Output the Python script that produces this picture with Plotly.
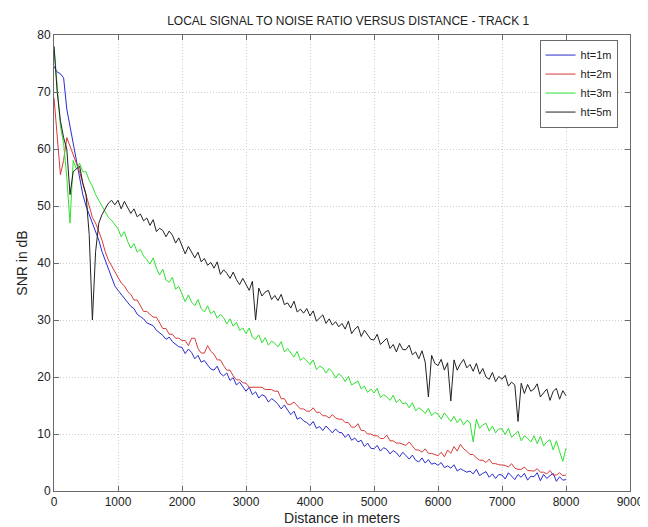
import plotly.graph_objects as go

# distance along track, 50 m steps
distance_m = list(range(0, 8001, 50))

snr_ht1 = [
    74.5, 73.5, 73.2, 72.5, 67, 64, 61, 57.5, 54.5, 52,
    50, 48.5, 47, 45.5, 44, 42, 40.5, 39, 37.5, 36,
    35.2, 34.5, 33.8, 33, 32.4, 32, 31, 30.6, 30.2, 29.5,
    29.2, 29, 28.2, 27.8, 27.3, 26.6, 27, 26.2, 25.7, 25.3,
    25.2, 24.1, 24.9, 24.3, 23.2, 23.8, 22.6, 22.9, 22.1, 21.4,
    21.2, 21.9, 20.6, 20.2, 20.7, 19.4, 19.9, 18.6, 19.1, 18.3,
    17.5, 18.2, 16.9, 17.4, 16.3, 16.9, 16.6, 15.6, 16.2, 15.8,
    15.2, 14.4, 15.1, 14.2, 13.4, 14.0, 12.6, 12.9, 12.3, 12.0,
    11.5, 12.2, 11.0, 11.3, 10.6, 11.4, 10.7, 10.2, 10.9, 10.3,
    10.2, 9.4, 10.0, 8.9, 9.3, 8.6, 8.9, 7.8, 8.4, 7.5,
    7.4, 8.0, 7.0, 7.6, 7.3, 6.5, 7.1, 6.7, 6.0, 6.8,
    6.2, 5.6, 6.3, 5.4, 5.1, 5.8, 4.9, 5.5, 4.7, 4.9,
    4.5, 5.0, 4.1, 4.4, 4.0, 4.6, 3.5, 3.9, 3.6, 3.3,
    3.5, 3.0, 3.8, 2.7, 3.1, 3.4, 2.4, 3.0, 2.2, 2.9,
    2.8, 2.1, 3.2, 2.5, 2.0, 2.9, 2.4, 3.1, 1.9, 2.6,
    2.5, 3.2, 1.8, 2.9, 2.2, 2.7, 3.1, 1.7, 2.5, 1.9,
    2.0,
]

snr_ht2 = [
    69, 62, 55.5, 58, 62, 60.5, 59, 57.5, 56, 54,
    52, 50, 48, 47, 45.5, 44, 42, 40.5, 39.5, 38.5,
    37.5, 36.5, 36, 35, 34.5, 33.5, 33.5, 32.5, 31.5, 31.5,
    31, 30.5, 30.5, 29.5, 28.5, 28.5, 27.5, 27.5, 26.8, 26.8,
    26.4, 26.4, 25.5, 26.8, 26.8, 25, 24.2, 24.2, 25.5, 24.5,
    24, 23, 23, 22, 21.2, 21.2, 20.2, 19.5, 19.5, 19,
    18.9, 18.2, 18.2, 18.2, 18.2, 18.2, 17.8, 17.8, 17.8, 17.5,
    17.5, 16.2, 16.2, 15.2, 15.2, 15.6, 15.0, 14.4, 14.4, 14.0,
    14.0, 14.6, 13.8, 13.8, 13.2, 13.2, 12.8, 13.4, 12.8, 12.6,
    12.6, 12.0, 12.0, 11.2, 11.2, 11.8, 10.6, 10.6, 10.0, 10.0,
    9.7, 9.7, 9.2, 9.2, 9.8, 8.8, 8.8, 8.4, 8.4, 8.2,
    8.0, 8.6, 7.8, 7.2, 7.2, 6.8, 7.4, 6.6, 6.6, 6.4,
    6.2, 6.8, 6.0, 7.2, 6.6, 7.8, 7.0, 8.2, 7.4, 7.0,
    6.4, 6.4, 5.8, 5.4, 5.4, 5.0, 5.6, 4.8, 4.8, 4.6,
    4.5, 4.5, 4.2, 4.8, 4.0, 3.8, 3.8, 4.2, 3.6, 3.6,
    3.5, 3.9, 3.3, 3.3, 3.0, 3.6, 2.8, 2.8, 3.2, 2.7,
    2.8,
]

snr_ht3 = [
    78, 71, 64, 61, 55, 47, 58, 56.5, 57.5, 56,
    56, 54.5, 53.5, 52, 51, 49.8, 49, 48, 47.5, 46.8,
    46, 44.6, 45.5, 43.8, 42.6, 43.4, 41.9, 42.4, 41.2, 40.6,
    39.8, 40.9, 39.1, 37.9, 38.9, 37.0, 36.6, 37.5, 35.4, 35.9,
    34.5, 33.2, 34.4, 33.1, 32.5, 33.6, 32.0, 31.4, 32.5, 31.1,
    31.6, 30.3, 31.0, 30.4, 29.3, 30.2, 28.9, 29.6, 28.2, 28.6,
    27.6, 28.6, 27.0, 26.6, 27.4, 26.0, 26.9, 25.6, 26.3, 25.9,
    25.3, 26.2, 24.4, 25.0, 24.2, 23.5, 24.5, 22.9, 23.4, 22.7,
    22.2, 23.0, 21.3, 21.9, 21.6, 20.7, 21.5, 20.9, 19.8, 20.6,
    20.1, 19.2, 20.1, 18.6, 18.9, 19.3, 17.9, 18.4, 17.3, 17.9,
    17.2, 18.0, 16.4, 16.9, 16.5, 15.9, 16.8, 15.5, 16.1, 15.3,
    15.5, 14.6, 15.5, 14.1, 14.6, 14.2, 13.6, 14.5, 13.2, 13.8,
    13.5, 12.6, 13.7, 12.9, 12.2, 13.1, 12.0, 12.7, 11.6, 12.4,
    12.0, 8.6, 12.6, 11.0, 11.6, 11.9, 10.5, 11.4, 10.2, 10.9,
    10.9, 9.9, 11.0, 9.4, 10.0, 10.5, 8.8, 9.7, 9.2, 8.6,
    9.7, 8.3, 9.6, 7.9, 8.6, 9.0, 7.2, 8.8, 6.9, 5.2,
    7.5,
]

snr_ht5 = [
    78, 70, 65, 62, 60, 52, 56, 56.5, 57, 54,
    52, 45, 30, 42, 47, 48.5, 49.5, 50.5, 51, 50.2,
    51, 49.5, 50.8, 49.6, 48.7, 49.5, 48.1, 48.6, 47.4, 47.9,
    46.6, 47.6, 45.5, 46.1, 45.7, 44.6, 45.6, 44.9, 43.5, 44.4,
    43.1, 41.6, 42.9, 42.0, 40.9, 41.9, 40.2, 40.8, 39.6, 40.1,
    39.1, 40.2, 38.0, 38.8, 38.2, 37.3, 38.4, 37.1, 36.2, 37.3,
    36.2, 35.2, 36.8, 30.0, 35.6, 34.2, 34.9, 35.2, 33.6, 34.3,
    33.4, 34.5, 32.7, 33.0, 32.1, 33.3, 31.4, 31.9, 31.2, 32.0,
    30.7, 31.6, 29.8, 30.4, 30.9, 29.4, 30.2, 29.1, 29.7, 28.8,
    29.4, 28.4, 29.8, 27.6, 28.4, 28.9, 27.1, 28.2, 27.3, 26.6,
    26.5, 27.5, 25.7, 26.2, 26.8, 25.0, 25.7, 24.4, 25.9, 24.8,
    24.8, 25.6, 23.9, 24.4, 23.2, 24.6, 22.6, 16.5, 23.8, 22.4,
    22.0, 23.1, 21.2, 22.5, 15.8, 23.0, 21.2, 22.3, 23.1, 21.6,
    22.2, 21.0, 22.4, 20.5, 21.5, 20.0, 19.6, 20.8, 19.2, 20.1,
    19.6, 20.3, 18.4, 19.1, 18.6, 12.2, 18.9, 17.1, 18.7, 17.5,
    17.9, 18.8, 16.5, 17.2, 17.9, 15.9, 17.5, 18.0, 16.1, 17.6,
    16.7,
]

series = [
    ("ht=1m", snr_ht1, "#2b2bd0"),
    ("ht=2m", snr_ht2, "#d83a3a"),
    ("ht=3m", snr_ht3, "#2fe02f"),
    ("ht=5m", snr_ht5, "#222222"),
]

fig = go.Figure()
for name, vals, color in series:
    fig.add_trace(go.Scatter(x=distance_m, y=vals, mode="lines", name=name,
                             line=dict(color=color, width=1)))

axis_style = dict(
    showline=True, linecolor="#6a6a6a", linewidth=1, mirror="ticks",
    ticks="inside", ticklen=5, tickcolor="#6a6a6a",
    showgrid=True, gridcolor="#cfcfcf", griddash="1px,2px", gridwidth=1,
    zeroline=False, tickfont=dict(size=12, color="#222222"),
)

fig.update_layout(
    width=648, height=527,
    font=dict(family="Liberation Sans, Arial, sans-serif", size=12, color="#222222"),
    title=dict(text="LOCAL SIGNAL TO NOISE RATIO VERSUS DISTANCE - TRACK 1",
               x=0.525, xanchor="center", y=0.975, yanchor="middle",
               font=dict(size=12)),
    margin=dict(l=46, r=15, t=27, b=38),
    plot_bgcolor="white", paper_bgcolor="white",
    legend=dict(x=0.843, y=0.99, xanchor="left", yanchor="top",
                bordercolor="#6a6a6a", borderwidth=1, bgcolor="white",
                font=dict(size=11), tracegroupgap=0, itemwidth=30),
    showlegend=True,
)
fig.update_xaxes(range=[0, 9000], dtick=1000, title=dict(text="Distance in meters", standoff=4), **axis_style)
fig.update_yaxes(range=[0, 80], dtick=10, title=dict(text="SNR in dB", standoff=6), **axis_style)

fig.write_html("out.html")
